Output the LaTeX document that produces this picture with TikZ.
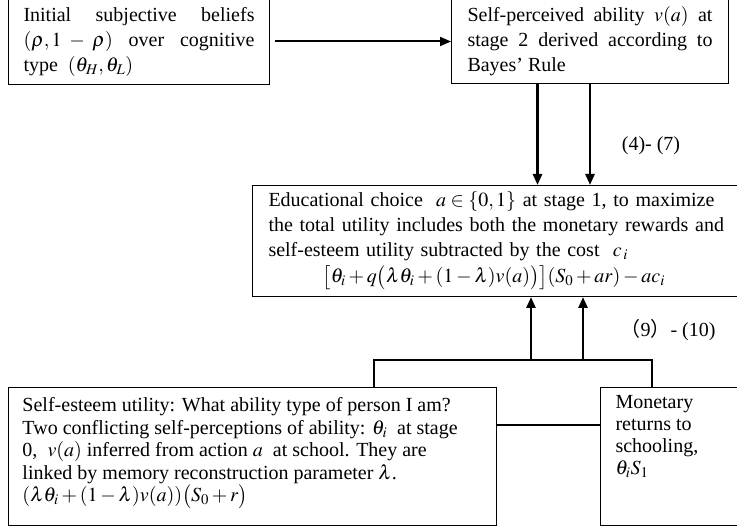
\documentclass[tikz,border=0pt]{standalone}
\usepackage{mathptmx}
\usepackage[no-math]{fontspec}
\setmainfont{Liberation Serif}
\newfontfamily\cjk{Noto Sans CJK SC}
\usetikzlibrary{arrows.meta}
\def\boxFont{\fontsize{20}{25}\selectfont}

\begin{document}
\begin{tikzpicture}[
    x=1pt, y=-1pt,
    >={Triangle[length=11pt,width=9pt]},
    every node/.style={font=\boxFont},
    box/.style={draw, line width=1pt, anchor=north west, inner ysep=0pt},
    flow/.style={->, line width=2.6pt},
    link/.style={line width=1.3pt}
]
\useasboundingbox (0,0) rectangle (737,529);
\clip (0,0) rectangle (737,529);

% stage boxes
\node[box, inner xsep=15pt, text width=231pt, minimum height=86pt, align=justify] (belief) at (8,-2)
    {Initial subjective beliefs\linebreak $(\rho,1-\rho)$ over cognitive\linebreak type\ \ $(\theta_H,\theta_L)$};
\node[box, inner xsep=16pt, text width=245pt, minimum height=85pt, align=justify] (selfperc) at (451,-2)
    {Self-perceived ability $v(a)$ at\linebreak stage 2 derived according to\linebreak Bayes' Rule};
\node[box, inner xsep=16pt, text width=470pt, minimum height=111pt, align=left] (choice) at (252,185)
    {Educational choice\ \ $a\in\{0,1\}$\ at stage 1, to maximize\\
     the total utility includes both the monetary rewards and\\
     self-esteem utility subtracted by the cost\ \ $c_{\,i}$\\[1pt]
     \hspace*{54pt}$\bigl[\theta_i+q\bigl(\lambda\theta_i+(1-\lambda)v(a)\bigr)\bigr](S_0+ar)-ac_i$};
\node[box, inner xsep=14pt, inner ysep=10pt] (esteem) at (8,387)
    {\parbox[t][118pt][t]{460pt}{\fontsize{20}{22.5}\selectfont
     Self-esteem utility: What ability type of person I am?\\
     Two conflicting self-perceptions of ability: $\theta_i$\ \ at stage\\
     0,\ \ $v(a)$ inferred from action $a$\ \ at school. They are\\
     linked by memory reconstruction parameter $\lambda$.\\
     $(\lambda\theta_i+(1-\lambda)v(a))\bigl(S_0+r\bigr)$}};
\node[box, inner xsep=15pt, inner ysep=8pt] (monetary) at (600,387)
    {\parbox[t][122pt][t]{115pt}{\fontsize{20}{22}\selectfont
     Monetary\\ returns to\\ schooling,\\ $\theta_iS_1$}};

% equation labels
\node (eqA) at (651,146) {(4)- (7)};
\node (eqB) at (668,330) {{\cjk （}9{\cjk ）}- (10)};

% bracket below the choice box
\coordinate (brL) at (374,360);
\coordinate (brR) at (652,360);
\coordinate (up1) at (531,360);
\coordinate (up2) at (583,360);

\draw[->, line width=2pt, shorten <=5pt] (belief.east) -- (belief.east -| selfperc.west);
\draw[flow] ([xshift=-52.5pt]selfperc.south) -- ([xshift=-52.5pt]selfperc.south |- choice.north);
\draw[flow] (selfperc.south) -- (selfperc.south |- choice.north);
\draw[flow] (up1) -- (up1 |- choice.south);
\draw[flow] (up2) -- (up2 |- choice.south);
\draw[link] (brL |- esteem.north) -- (brL) -- (brR) -- (brR |- monetary.north);
\draw[link] ([yshift=-38pt]esteem.north east) -- ([yshift=-38pt]esteem.north east -| monetary.west);
\end{tikzpicture}
\end{document}
